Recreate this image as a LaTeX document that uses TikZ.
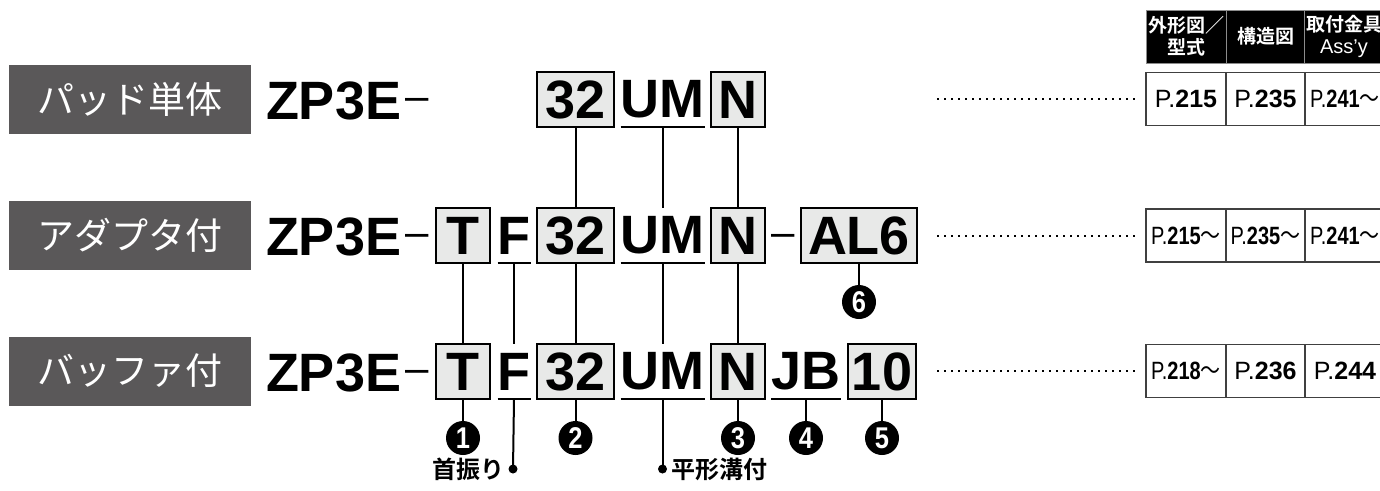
\documentclass[tikz,border=0pt]{standalone}
\usepackage{fontspec}
\usepackage{graphicx}
\setmainfont{Liberation Sans}
\newfontfamily\jp[BoldFont={Noto Sans CJK JP Bold}]{Noto Sans CJK JP}
\definecolor{labgray}{HTML}{5A5859}
\definecolor{codegray}{HTML}{E8E9E8}
\begin{document}
\begin{tikzpicture}[x=1pt,y=-1pt,
  every node/.style={inner sep=0pt, outer sep=0pt},
  code/.style={font=\fontsize{54}{54}\selectfont\bfseries, minimum height=55, text=black},
  codebox/.style={code, draw=black, line width=2, fill=codegray},
  ulline/.style={line width=2, draw=black},
  dashtxt/.style={font=\fontsize{42}{42}\selectfont, anchor=base},
  lab/.style={fill=labgray, text=white, font=\jp\fontsize{37}{37}\selectfont, minimum width=242, minimum height=69},
  conn/.style={line width=2, draw=black},
  circnum/.style={circle, fill=black, minimum size=34, text=white, font=\fontsize{30}{30}\selectfont\bfseries},
  dotn/.style={circle, fill=black, minimum size=9},
  note/.style={font=\jp\bfseries\fontsize{24}{24}\selectfont},
  leader/.style={line width=2, dash pattern=on 2 off 5},
  cell/.style={draw=black!75, line width=1.2, fill=white, minimum height=53, font=\fontsize{25}{25}\selectfont},
  head/.style={draw=black!45, line width=1, fill=black, text=white, minimum height=53, font=\jp\bfseries\fontsize{19}{22}\selectfont, align=center},
]
\useasboundingbox (0,0) rectangle (1380,490);
\clip (0,0) rectangle (1380,490);

% ---------- gray labels ----------
\node[lab] (lab1) at (130,99.5) {パッド単体};
\node[lab] (lab2) at (130,235.5) {アダプタ付};
\node[lab] (lab3) at (130,371) {バッファ付};

% ---------- row 1 ----------
\node[code, anchor=base west, minimum height=0] (r1zp) at (266,119) {ZP3E};
\node[dashtxt] (r1d) at (417.5,110) {–};
\node[codebox, minimum width=77] (r1c32) at (575.5,99.5) {32};
\node[code, minimum width=83] (r1um) at (662.5,99.5) {UM};
\node[codebox, minimum width=54] (r1n) at (738,99.5) {N};
\draw[ulline] (r1um.south west) -- (r1um.south east);

% ---------- row 2 ----------
\node[code, anchor=base west, minimum height=0] (r2zp) at (266,255) {ZP3E};
\node[dashtxt] (r2d) at (417.5,246) {–};
\node[codebox, minimum width=54] (r2t) at (463,235.5) {T};
\node[code, minimum width=32] (r2f) at (514,235.5) {F};
\node[codebox, minimum width=77] (r2c32) at (575.5,235.5) {32};
\node[code, minimum width=83] (r2um) at (662.5,235.5) {UM};
\node[codebox, minimum width=54] (r2n) at (738,235.5) {N};
\node[dashtxt] (r2d2) at (783,246) {–};
\node[codebox, minimum width=116] (r2al) at (859,235.5) {AL6};
\draw[ulline] (r2f.south west) -- (r2f.south east);
\draw[ulline] (r2um.south west) -- (r2um.south east);

% ---------- row 3 ----------
\node[code, anchor=base west, minimum height=0] (r3zp) at (266,391) {ZP3E};
\node[dashtxt] (r3d) at (417.5,382) {–};
\node[codebox, minimum width=54] (r3t) at (463,371.5) {T};
\node[code, minimum width=32] (r3f) at (514,371.5) {F};
\node[codebox, minimum width=77] (r3c32) at (575.5,371.5) {32};
\node[code, minimum width=83] (r3um) at (662.5,371.5) {UM};
\node[codebox, minimum width=54] (r3n) at (738,371.5) {N};
\node[code, minimum width=68] (r3jb) at (806,371.5) {JB};
\node[codebox, minimum width=68] (r3ten) at (882,371.5) {10};
\draw[ulline] (r3f.south west) -- (r3f.south east);
\draw[ulline] (r3um.south west) -- (r3um.south east);
\draw[ulline] (r3jb.south west) -- (r3jb.south east);

% ---------- vertical connectors ----------
\draw[conn] (r1c32.south) -- (r2c32.north);
\draw[conn] (r1um.south) -- (r2um.north);
\draw[conn] (r1n.south) -- (r2n.north);
\draw[conn] (r2t.south) -- (r3t.north);
\draw[conn] (r2f.south) -- (r3f.north);
\draw[conn] (r2c32.south) -- (r3c32.north);
\draw[conn] (r2um.south) -- (r3um.north);
\draw[conn] (r2n.south) -- (r3n.north);

% ---------- circled numbers ----------
\node[circnum] (n6) at (859,302) {\scalebox{0.85}[1]{6}};
\node[circnum] (n1) at (463,438) {\scalebox{0.85}[1]{1}};
\node[circnum] (n2) at (575.5,438) {\scalebox{0.85}[1]{2}};
\node[circnum] (n3) at (738,438) {\scalebox{0.85}[1]{3}};
\node[circnum] (n4) at (806,438) {\scalebox{0.85}[1]{4}};
\node[circnum] (n5) at (882,438) {\scalebox{0.85}[1]{5}};
\draw[conn] (r2al.south) -- (n6.north);
\draw[conn] (r3t.south) -- (n1.north);
\draw[conn] (r3c32.south) -- (n2.north);
\draw[conn] (r3n.south) -- (n3.north);
\draw[conn] (r3jb.south) -- (n4.north);
\draw[conn] (r3ten.south) -- (n5.north);

% ---------- notes ----------
\node[dotn] (dF) at (513,469) {};
\node[dotn] (dUM) at (662.5,469) {};
\draw[conn] (r3f.south) -- (dF.center);
\draw[conn] (r3um.south) -- (dUM.center);
\node[note, anchor=east] (noteF) at (504,469) {首振り};
\node[note, anchor=west] (noteUM) at (671,469) {平形溝付};

% ---------- table ----------
\node[head, minimum width=80] (h1) at (1186,36.5) {外形図／\\型式};
\node[head, minimum width=79] (h2) at (1265.5,36.5) {構造図};
\node[head, minimum width=80] (h3) at (1344,36.5) {取付金具\\{\normalfont\mdseries\fontsize{20}{22}\selectfont Ass'y}};

\node[cell, minimum width=80] (t11) at (1186,99) {P.\textbf{215}};
\node[cell, minimum width=79] (t12) at (1265.5,99) {P.\textbf{235}};
\node[cell, minimum width=80] (t13) at (1345,99) {\scalebox{0.8}[1]{P.\textbf{241}{\jp 〜}}};

\node[cell, minimum width=80] (t21) at (1186,235.5) {\scalebox{0.8}[1]{P.\textbf{215}{\jp 〜}}};
\node[cell, minimum width=79] (t22) at (1265.5,235.5) {\scalebox{0.8}[1]{P.\textbf{235}{\jp 〜}}};
\node[cell, minimum width=80] (t23) at (1345,235.5) {\scalebox{0.8}[1]{P.\textbf{241}{\jp 〜}}};

\node[cell, minimum width=80] (t31) at (1186,371) {\scalebox{0.8}[1]{P.\textbf{218}{\jp 〜}}};
\node[cell, minimum width=79] (t32) at (1265.5,371) {P.\textbf{236}};
\node[cell, minimum width=80] (t33) at (1345,371) {P.\textbf{244}};

% ---------- leaders ----------
\coordinate (la1) at (937,99);
\coordinate (la2) at (937,235.5);
\coordinate (la3) at (937,371);
\draw[leader] (la1) -- ([xshift=-10]t11.west);
\draw[leader] (la2) -- ([xshift=-10]t21.west);
\draw[leader] (la3) -- ([xshift=-10]t31.west);
\end{tikzpicture}
\end{document}
